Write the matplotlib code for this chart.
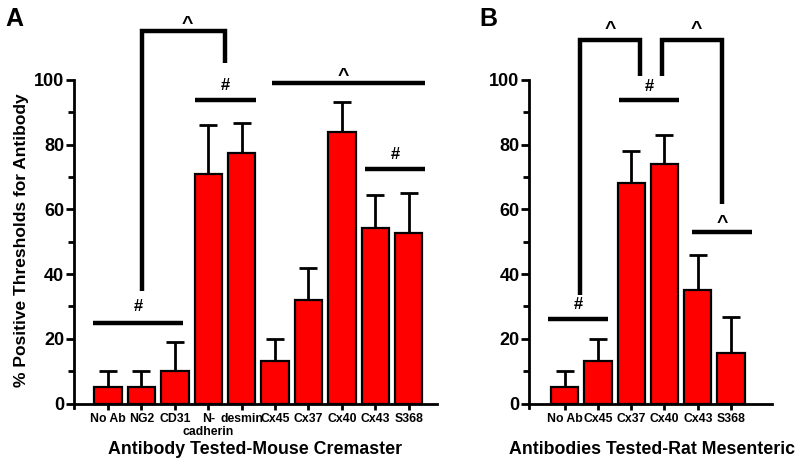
import matplotlib
matplotlib.use("Agg")
import matplotlib.pyplot as plt
import numpy as np

plt.rcParams['font.family'] = ['Liberation Sans', 'DejaVu Sans']
plt.rcParams['font.weight'] = 'bold'

# Panel A data
cats_a = ["No Ab", "NG2", "CD31", "N-", "desmin", "Cx45", "Cx37", "Cx40", "Cx43", "S368"]
cat_a_second_line = {3: "cadherin"}
vals_a = [5, 5, 10, 71, 77.3, 13, 32, 84, 54.3, 52.8]
errs_a = [5, 5, 9, 15, 9.5, 7, 10, 9, 10.2, 12.2]

# Panel B data
cats_b = ["No Ab", "Cx45", "Cx37", "Cx40", "Cx43", "S368"]
vals_b = [5, 13, 68, 74, 35, 15.5]
errs_b = [5, 7, 10, 9, 11, 11.3]

yticks = [0, 20, 40, 60, 80, 100]

fig = plt.figure(figsize=(8, 4.67), dpi=100)
H = 467.0
W = 800.0
y0_px = 403.5
ppu = 3.237  # px per data unit
ymin, ymax = -1.5, 124
bot = 1 - (y0_px + (-ymin) * ppu) / H
hgt = (ymax - ymin) * ppu / H

axA = fig.add_axes([74 / W, bot, (436.7 - 74) / W, hgt])
axB = fig.add_axes([529.3 / W, bot, (771.7 - 529.3) / W, hgt])

RED = '#ff0000'
LW = 1.6
ALW = 3.2
XFS = 8.8


def style(ax, ncat, xl, xr, cats):
    ax.set_xlim(xl, xr)
    ax.set_ylim(ymin, ymax)
    for s in ['top', 'right']:
        ax.spines[s].set_visible(False)
    ax.spines['left'].set_bounds(ymin, 100)
    ax.spines['left'].set_linewidth(2)
    ax.spines['bottom'].set_position(('data', 0))
    ax.spines['bottom'].set_linewidth(2)
    ax.set_yticks(yticks)
    ax.set_yticks([10, 30, 50, 70, 90], minor=True)
    ax.tick_params(axis='y', which='major', length=6, width=2, labelsize=13, pad=1)
    ax.tick_params(axis='y', which='minor', length=4, width=2)
    ax.set_xticks(np.arange(ncat))
    ax.set_xticklabels(cats, fontsize=XFS, fontweight='bold')
    ax.tick_params(axis='x', length=4, width=2, pad=3)
    for lab in ax.get_yticklabels():
        lab.set_fontweight('bold')


def bars(ax, vals, errs):
    x = np.arange(len(vals))
    ax.bar(x, vals, width=0.82, color=RED, edgecolor='black', linewidth=LW, zorder=2)
    ax.errorbar(x, vals, yerr=[np.zeros(len(errs)), errs], fmt='none', ecolor='black',
                elinewidth=2, capsize=6.5, capthick=2, zorder=1)


def hbar(ax, x1, x2, y, txt, ty):
    ax.plot([x1, x2], [y, y], color='black', lw=ALW, solid_capstyle='butt', clip_on=False)
    if txt:
        ax.text((x1 + x2) / 2, ty, txt, ha='center', va='center', fontsize=12, fontweight='bold')


def bracket(ax, xs, ys):
    ax.plot(xs, ys, color='black', lw=ALW, solid_capstyle='butt', solid_joinstyle='miter', clip_on=False)


# Panel A
bars(axA, vals_a, errs_a)
style(axA, len(cats_a), -1.02, 9.84, cats_a)
for i, t in cat_a_second_line.items():
    axA.text(i, -8.8, t, ha='center', va='center', fontsize=XFS, fontweight='bold', clip_on=False)
fig.text(255 / W, 1 - 450 / H, "Antibody Tested-Mouse Cremaster", fontsize=12.8,
         fontweight='bold', ha='center', va='center')
fig.text(22 / W, 1 - 240 / H, "% Positive Thresholds for Antibody", fontsize=12.5,
         fontweight='bold', ha='center', va='center', rotation=90)
hbar(axA, -0.46, 2.25, 24.8, "#", 30)
bracket(axA, [1.03, 1.03, 3.5, 3.5], [34.6, 115, 115, 105.3])
hbar(axA, 2.6, 4.42, 93.9, "#", 98.3)
hbar(axA, 4.9, 9.5, 98.9, "", 0)
hbar(axA, 7.68, 9.5, 72.4, "#", 76.8)
axA.text(2.38, 117.0, "^", ha='center', va='center', fontsize=14, fontweight='bold')
axA.text(7.03, 101.0, "^", ha='center', va='center', fontsize=14, fontweight='bold')

# Panel B
bars(axB, vals_b, errs_b)
style(axB, len(cats_b), -1.06, 6.22, cats_b)
fig.text(652 / W, 1 - 450 / H, "Antibodies Tested-Rat Mesenteric", fontsize=12.8,
         fontweight='bold', ha='center', va='center')
hbar(axB, -0.49, 1.31, 26.0, "#", 30.5)
bracket(axB, [0.47, 0.47, 2.25, 2.25], [33.4, 112.3, 112.3, 101.2])
bracket(axB, [2.94, 2.94, 4.74, 4.74], [101.2, 112.3, 112.3, 61.5])
hbar(axB, 1.64, 3.44, 93.7, "#", 98)
hbar(axB, 3.84, 5.64, 53.0, "", 0)
axB.text(1.37, 115.5, "^", ha='center', va='center', fontsize=14, fontweight='bold')
axB.text(3.94, 115.5, "^", ha='center', va='center', fontsize=14, fontweight='bold')
axB.text(4.74, 55.5, "^", ha='center', va='center', fontsize=14, fontweight='bold')

fig.text(5 / W, 1 - 19 / H, "A", fontsize=18, fontweight='bold', ha='left', va='center')
fig.text(479 / W, 1 - 19 / H, "B", fontsize=18, fontweight='bold', ha='left', va='center')

fig.savefig("out.png", dpi=100)
